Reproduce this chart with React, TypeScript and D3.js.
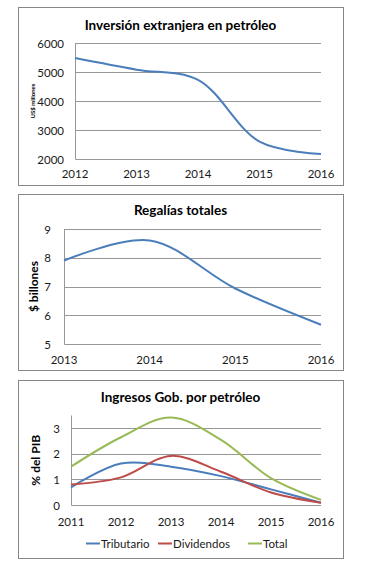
import { useEffect, useRef } from "react";
import * as d3 from "d3";

// Inversión extranjera en petróleo (US$ millones)
const invYears = [2012, 2013, 2014, 2015, 2016];
const invValues = [5480, 5080, 4730, 2600, 2170];
const invTicks = [2000, 3000, 4000, 5000, 6000];

// Regalías totales ($ billones)
const regYears = [2013, 2014, 2015, 2016];
const regValues = [7.9, 8.6, 6.93, 5.67];
const regTicks = [5, 6, 7, 8, 9];

// Ingresos Gob. por petróleo (% del PIB)
const ingYears = [2011, 2012, 2013, 2014, 2015, 2016];
const tributario = [0.69, 1.62, 1.5, 1.13, 0.61, 0.09];
const dividendos = [0.8, 1.08, 1.92, 1.3, 0.49, 0.09];
const total = [1.5, 2.65, 3.42, 2.55, 1.05, 0.2];
const ingTicks = [0, 1, 2, 3];
const seriesNames = ["Tributario", "Dividendos", "Total"];
const seriesColors = ["#4a7ebb", "#be4b48", "#98b954"];

const FONT = "Lato, Carlito, 'Open Sans', sans-serif";
const GRID = "#979797";

type PanelCfg = {
  box: [number, number, number, number];
  title: string;
  titleY: number;
  xDomain: [number, number];
  xRange: [number, number];
  yDomain: [number, number];
  yRange: [number, number];
  yTicks: number[];
  xTicks: number[];
  labelX: number;
  xLabelY: number;
  yTitle: string;
  yTitleX: number;
  yTitleSize: number;
  series: { years: number[]; values: number[]; color: string }[];
};

function drawPanel(svg: d3.Selection<SVGSVGElement, unknown, null, undefined>, c: PanelCfg) {
  const g = svg.append("g");
  const [bx0, by0, bx1, by1] = c.box;
  g.append("rect")
    .attr("x", bx0 + 0.5).attr("y", by0 + 0.5)
    .attr("width", bx1 - bx0).attr("height", by1 - by0)
    .attr("fill", "#fff").attr("stroke", "#868686").attr("stroke-width", 1);

  g.append("text")
    .attr("x", (bx0 + bx1) / 2).attr("y", c.titleY)
    .attr("text-anchor", "middle")
    .attr("font-family", FONT).attr("font-weight", "bold").attr("font-size", 13.5)
    .text(c.title);

  const x = d3.scaleLinear().domain(c.xDomain).range(c.xRange);
  const y = d3.scaleLinear().domain(c.yDomain).range(c.yRange);

  // gridlines
  g.selectAll(null)
    .data(c.yTicks.filter(t => t !== c.yDomain[0]))
    .join("line")
    .attr("x1", c.xRange[0]).attr("x2", c.xRange[1])
    .attr("y1", d => Math.round(y(d)) + 0.5).attr("y2", d => Math.round(y(d)) + 0.5)
    .attr("stroke", GRID).attr("stroke-width", 1);

  // axes lines
  const x0 = Math.round(c.xRange[0]) + 0.5;
  const yb = Math.round(y(c.yDomain[0])) + 0.5;
  g.append("line")
    .attr("x1", x0).attr("x2", x0)
    .attr("y1", y(c.yDomain[1])).attr("y2", yb)
    .attr("stroke", GRID);
  g.append("line")
    .attr("x1", x0).attr("x2", c.xRange[1])
    .attr("y1", yb).attr("y2", yb)
    .attr("stroke", GRID);

  // y tick labels
  g.selectAll(null)
    .data(c.yTicks)
    .join("text")
    .attr("x", c.labelX).attr("y", d => y(d) + 4.5)
    .attr("text-anchor", "end")
    .attr("font-family", FONT).attr("font-size", 11.5).attr("fill", "#1a1a1a")
    .text(d => String(d));

  // x tick labels
  g.selectAll(null)
    .data(c.xTicks)
    .join("text")
    .attr("x", d => x(d)).attr("y", c.xLabelY)
    .attr("text-anchor", "middle")
    .attr("font-family", FONT).attr("font-size", 11.5).attr("fill", "#1a1a1a")
    .text(d => String(d));

  // y title
  const yMid = (c.yRange[0] + c.yRange[1]) / 2;
  g.append("text")
    .attr("transform", `translate(${c.yTitleX},${yMid}) rotate(-90)`)
    .attr("text-anchor", "middle")
    .attr("font-family", FONT).attr("font-weight", "bold").attr("font-size", c.yTitleSize)
    .text(c.yTitle);

  const line = d3.line<[number, number]>()
    .x(d => x(d[0]))
    .y(d => y(d[1]))
    .curve(d3.curveCatmullRom);

  c.series.forEach(s => {
    g.append("path")
      .datum(s.years.map((yr, i) => [yr, s.values[i]] as [number, number]))
      .attr("fill", "none")
      .attr("stroke", s.color)
      .attr("stroke-width", 2)
      .attr("d", line);
  });
  return g;
}

export default function App() {
  const ref = useRef<SVGSVGElement | null>(null);

  useEffect(() => {
    if (!ref.current) return;
    const svg = d3.select(ref.current);
    svg.selectAll("*").remove();

    drawPanel(svg, {
      box: [18, 7, 343, 185],
      title: "Inversión extranjera en petróleo",
      titleY: 30,
      xDomain: [2012, 2016], xRange: [75, 321],
      yDomain: [2000, 6000], yRange: [159, 43],
      yTicks: invTicks, xTicks: invYears,
      labelX: 64, xLabelY: 178,
      yTitle: "US$ millones", yTitleX: 35, yTitleSize: 6,
      series: [{ years: invYears, values: invValues, color: seriesColors[0] }],
    });

    drawPanel(svg, {
      box: [18, 194, 343, 370],
      title: "Regalías totales",
      titleY: 215,
      xDomain: [2013, 2016], xRange: [64, 321],
      yDomain: [5, 9], yRange: [344, 229],
      yTicks: regTicks, xTicks: regYears,
      labelX: 51, xLabelY: 364,
      yTitle: "$ billones", yTitleX: 38, yTitleSize: 12,
      series: [{ years: regYears, values: regValues, color: seriesColors[0] }],
    });

    const g3 = drawPanel(svg, {
      box: [18, 380, 343, 558],
      title: "Ingresos Gob. por petróleo",
      titleY: 402,
      xDomain: [2011, 2016], xRange: [71, 321],
      yDomain: [0, 3.5], yRange: [505, 415.5],
      yTicks: ingTicks, xTicks: ingYears,
      labelX: 60, xLabelY: 526,
      yTitle: "% del PIB", yTitleX: 40, yTitleSize: 12,
      series: [
        { years: ingYears, values: tributario, color: seriesColors[0] },
        { years: ingYears, values: dividendos, color: seriesColors[1] },
        { years: ingYears, values: total, color: seriesColors[2] },
      ],
    });

    // legend
    const legendX = [86, 158, 248];
    const leg = g3.selectAll(null)
      .data(seriesNames)
      .join("g")
      .attr("transform", (_, i) => `translate(${legendX[i]},543)`);
    leg.append("line")
      .attr("x1", 0).attr("x2", 14).attr("y1", 0.5).attr("y2", 0.5)
      .attr("stroke", (_, i) => seriesColors[i]).attr("stroke-width", 2);
    leg.append("text")
      .attr("x", 15).attr("y", 4.5)
      .attr("font-family", FONT).attr("font-size", 11.5).attr("fill", "#1a1a1a")
      .text(d => d);
  }, []);

  return (
    <svg
      ref={ref}
      width={370}
      height={562}
      style={{ position: "absolute", left: 0, top: 0, background: "#fff" }}
    />
  );
}
